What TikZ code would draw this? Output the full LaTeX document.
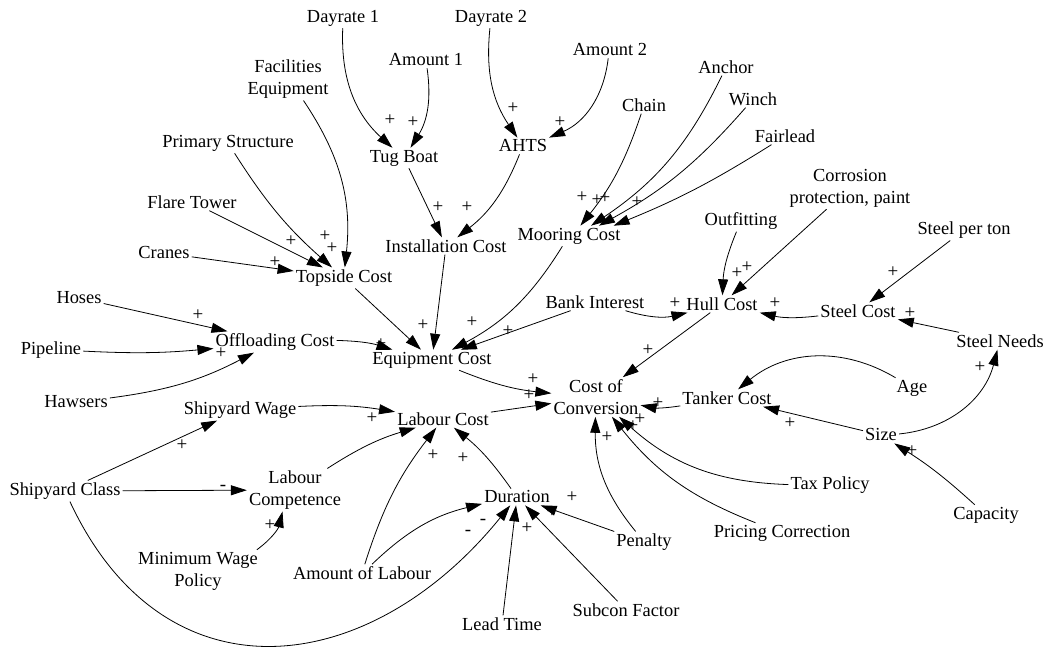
\documentclass[tikz,border=0pt]{standalone}
\usepackage{fontspec}
\setmainfont{Liberation Serif}
\usetikzlibrary{arrows.meta}
\begin{document}
\begin{tikzpicture}[x=1pt,y=1pt,
  var/.style={font=\fontsize{18.4}{22}\selectfont, inner sep=2pt, align=center},
  lk/.style={line width=0.8pt, -{Triangle[length=16pt,width=10pt]}},
  sg/.style={font=\fontsize{19}{22}\selectfont, inner sep=0pt}]
\useasboundingbox (0,0) rectangle (1051,647);

% ---- variables ----
\node[var] (day1) at (343,629) {Dayrate 1};
\node[var] (amt1) at (426,587) {Amount 1};
\node[var] (day2) at (491,629) {Dayrate 2};
\node[var] (amt2) at (610,597) {Amount 2};
\node[var] (facil) at (288,568) {Facilities\\Equipment};
\node[var] (prim) at (228,504) {Primary Structure};
\node[var] (flare) at (192,445) {Flare Tower};
\node[var] (cranes) at (164,394) {Cranes};
\node[var] (tug) at (404,489) {Tug Boat};
\node[var] (ahts) at (523,501) {AHTS};
\node[var] (chain) at (644,542) {Chain};
\node[var] (anchor) at (726,580) {Anchor};
\node[var] (winch) at (753,548) {Winch};
\node[var] (fair) at (785,511) {Fairlead};
\node[var] (corr) at (850,459) {Corrosion\\protection, paint};
\node[var] (outfit) at (741,426) {Outfitting};
\node[var] (steelton) at (964,417) {Steel per ton};
\node[var] (mooring) at (569,411) {Mooring Cost};
\node[var] (install) at (446,401) {Installation Cost};
\node[var] (topside) at (344,369) {Topside Cost};
\node[var] (hoses) at (79,349) {Hoses};
\node[var] (offload) at (275,305) {Offloading Cost};
\node[var] (pipeline) at (51,297) {Pipeline};
\node[var] (hawsers) at (76,245) {Hawsers};
\node[var] (swage) at (240,237) {Shipyard Wage};
\node[var] (equip) at (432,287) {Equipment Cost};
\node[var] (bank) at (595,345) {Bank Interest};
\node[var] (hull) at (722,343) {Hull Cost};
\node[var] (steelcost) at (858,336) {Steel Cost};
\node[var] (steelneeds) at (1000,306) {Steel Needs};
\node[var] (age) at (912,259) {Age};
\node[var] (tanker) at (727,249) {Tanker Cost};
\node[var] (size) at (881,212) {Size};
\node[var] (tax) at (830,162) {Tax Policy};
\node[var] (capacity) at (986,132) {Capacity};
\node[var] (coc) at (596,250) {Cost of\\Conversion};
\node[var] (labour) at (443,228) {Labour Cost};
\node[var] (duration) at (517,150) {Duration};
\node[var] (penalty) at (644,105) {Penalty};
\node[var] (pricing) at (782,114) {Pricing Correction};
\node[var] (subcon) at (626,37) {Subcon Factor};
\node[var] (lead) at (502,23) {Lead Time};
\node[var] (amtlab) at (362,74) {Amount of Labour};
\node[var] (comp) at (295,157) {Labour\\Competence};
\node[var] (sclass) at (65,156) {Shipyard Class};
\node[var] (minwage) at (198,76) {Minimum Wage\\Policy};

% ---- causal links ----
\draw[lk] (day1) to[bend right=25] (tug);
\draw[lk] (amt1) to[bend left=20] (tug);
\draw[lk] (day2) to[bend right=20] (ahts);
\draw[lk] (amt2) to[bend left=30] (ahts);
\draw[lk] (tug) -- (install);
\draw[lk] (ahts) to[bend left=15] (install);
\draw[lk] (facil) to[bend left=20] (topside);
\draw[lk] (prim) to[bend right=8] (topside);
\draw[lk] (flare) -- (topside);
\draw[lk] (cranes) -- (topside);
\draw[lk] (hoses) -- (offload);
\draw[lk] (pipeline) to[bend right=4] (offload);
\draw[lk] (hawsers) to[bend right=10] (offload);
\draw[lk] (topside) -- (equip);
\draw[lk] (install) -- (equip);
\draw[lk] (mooring) to[bend left=15] (equip);
\draw[lk] (bank) -- (equip);
\draw[lk] (offload) to[bend left=8] (equip);
\draw[lk] (equip) to[bend right=8] (coc);
\draw[lk] (labour) -- (coc);
\draw[lk] (swage) to[bend left=6] (labour);
\draw[lk] (hull) -- (coc);
\draw[lk] (bank) to[bend right=15] (hull);
\draw[lk] (steelcost) to[bend left=10] (hull);
\draw[lk] (outfit) to[bend right=10] (hull);
\draw[lk] (corr) -- (hull);
\draw[lk] (steelton) -- (steelcost);
\draw[lk] (steelneeds) -- (steelcost);
\draw[lk] (age) to[bend right=35] (tanker);
\draw[lk] (size) -- (tanker);
\draw[lk] (size) to[bend right=35] (steelneeds);
\draw[lk] (capacity) to[bend right=5] (size);
\draw[lk] (tanker) to[bend left=10] (coc);
\draw[lk] (tax) to[bend left=20] (coc);
\draw[lk] (pricing) to[bend left=15] (coc);
\draw[lk] (penalty) to[bend left=20] (coc);
\draw[lk] (penalty) -- (duration);
\draw[lk] (duration) to[bend right=8] (labour);
\draw[lk] (amtlab) to[bend left=10] (labour);
\draw[lk] (amtlab) to[bend left=15] (duration);
\draw[lk] (comp) to[bend left=8] (labour);
\draw[lk] (sclass) -- (swage);
\draw[lk] (sclass) -- (comp);
\draw[lk] (minwage) to[bend right=20] (comp);
\draw[lk] (sclass) to[out=-65,in=231,looseness=1.3] (duration);
\draw[lk] (lead) -- (duration);
\draw[lk] (subcon) -- (duration);
\draw[lk] (chain) to[bend left=10] (mooring.42);
\draw[lk] (anchor) to[bend left=15] (mooring.25);
\draw[lk] (winch) to[bend left=10] (mooring.19);
\draw[lk] (fair) to[bend left=5] (mooring.13);

% ---- polarity signs ----
\node[sg] (p1) at (390,527) {+};
\node[sg] (p2) at (413,525) {+};
\node[sg] (p3) at (513,539) {+};
\node[sg] (p4) at (560,525) {+};
\node[sg] (p5) at (438,440) {+};
\node[sg] (p6) at (467,440) {+};
\node[sg] (p7) at (325,411) {+};
\node[sg] (p8) at (332,399) {+};
\node[sg] (p9) at (291,406) {+};
\node[sg] (p10) at (275,385) {+};
\node[sg] (p11) at (198,332) {+};
\node[sg] (p12) at (221,294) {+};
\node[sg] (p13) at (423,322) {+};
\node[sg] (p14) at (472,325) {+};
\node[sg] (p15) at (508,316) {+};
\node[sg] (p16) at (381,303) {+};
\node[sg] (p17) at (533,268) {+};
\node[sg] (p18) at (529,252) {+};
\node[sg] (p19) at (372,229) {+};
\node[sg] (p20) at (648,297) {+};
\node[sg] (p21) at (675,344) {+};
\node[sg] (p22) at (775,344) {+};
\node[sg] (p23) at (737,374) {+};
\node[sg] (p24) at (747,380) {+};
\node[sg] (p25) at (893,375) {+};
\node[sg] (p26) at (910,334) {+};
\node[sg] (p27) at (790,224) {+};
\node[sg] (p28) at (980,280) {+};
\node[sg] (p29) at (912,196) {+};
\node[sg] (p30) at (658,244) {+};
\node[sg] (p31) at (640,228) {+};
\node[sg] (p32) at (633,221) {+};
\node[sg] (p33) at (607,210) {+};
\node[sg] (p34) at (572,150) {+};
\node[sg] (p35) at (552,135) {+};
\node[sg] (p36) at (463,189) {+};
\node[sg] (p37) at (433,192) {+};
\node[sg] (p38) at (483,125) {-};
\node[sg] (p39) at (468,114) {-};
\node[sg] (p40) at (527,119) {+};
\node[sg] (p41) at (182,202) {+};
\node[sg] (p42) at (223,159) {-};
\node[sg] (p43) at (270,122) {+};
\node[sg] (p44) at (582,450) {+};
\node[sg] (p45) at (597,447) {+};
\node[sg] (p46) at (605,449) {+};
\node[sg] (p47) at (637,445) {+};
\end{tikzpicture}
\end{document}
